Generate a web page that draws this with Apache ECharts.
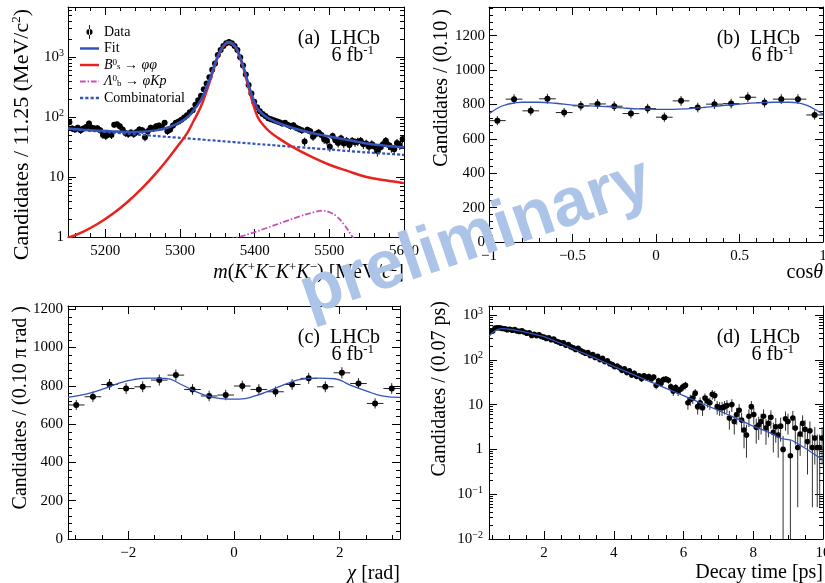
<!DOCTYPE html>
<html><head><meta charset="utf-8">
<script src="https://cdn.jsdelivr.net/npm/echarts@6/dist/echarts.min.js"></script>
<style>html,body{margin:0;padding:0;background:#fff}#c{width:825px;height:583px}</style>
</head><body><div id="c"></div>
<script>
// ---------------- (a) mass ----------------
const massLow = 5150, massBinWidth = 3.75;
const massCounts = [
82,64,62,66,60,64,68,78,66,64, 65,60,50,48,52,50,74,76,70,62,
54,52,55,52,56,62,60,46,58,66, 64,70,72,68,80,58,62,72,80,84,
90,98,107,120,130,160,190,225,290,360, 460,610,780,1080,1300,1530,1700,1770,1700,1530,
1300,990,720,510,340,245,180,145,125,112, 104,95,92,88,85,82,78,80,74,70,
73,66,63,60,39,61,58,47,52,55, 50,42,40,32,48,41,37,44,36,40,
34,40,38,39,40,35,36,32,35,32, 27,31,35,40,34,31,29,37,34,43];
const fitMass = [5150,5170,5190,5210,5230,5250,5270,5285,5300,5310,5318,5328,5338,5345,5350,5355,5360,5365,5370,5375,5380,5385,5390,5397,5404,5412,5420,5430,5450,5475,5500,5525,5550,5575,5600];
const fitTotal = [64,61.4,59.2,57.4,56.4,56.9,60.4,67.3,81.6,98.9,128,192,371,661,990,1340,1640,1770,1690,1439,1038,688,418,217,137,108,93,81,66,54.6,47.3,41.3,36.2,33.3,31.2];
const fitSignal = [0.97,1.22,1.66,2.43,3.87,6.65,12.4,20.9,36.7,55,85,150,330,620,950,1300,1600,1730,1650,1400,1000,650,380,180,100,72,57,46,32,22,16,12.5,10,8.8,7.9];
const fitComb = [63,60.2,57.5,55,52.5,50.2,48,46.4,44.9,43.9,43.1,42.2,41.2,40.6,40.1,39.6,39.2,38.7,38.3,37.8,37.4,37.0,36.5,36.0,35.4,34.8,34.2,33.4,32.0,30.3,28.7,27.1,25.7,24.5,23.3];
const lbMass = [5365,5390,5415,5440,5460,5480,5490,5500,5510,5520,5530,5537];
const lbValues = [0.9,1.1,1.4,1.8,2.2,2.6,2.75,2.6,2.2,1.6,1.05,0.8];
// ---------------- (b) cos theta ----------------
const cosCenters = [-0.95,-0.85,-0.75,-0.65,-0.55,-0.45,-0.35,-0.25,-0.15,-0.05,0.05,0.15,0.25,0.35,0.45,0.55,0.65,0.75,0.85,0.95];
const cosCounts = [706,831,763,833,753,792,803,790,747,776,726,821,782,802,805,842,811,831,831,739];
const cosFitX = [-1,-0.95,-0.9,-0.8,-0.7,-0.6,-0.5,-0.4,-0.3,-0.2,-0.1,0,0.1,0.2,0.3,0.4,0.5,0.6,0.7,0.8,0.85,0.9,0.95,1];
const cosFitY = [745,778,798,813,813,807,796,792,788,780,774,772,772,776,784,794,802,809,813,813,809,796,772,743];
// ---------------- (c) chi ----------------
const chiCenters = [-2.985,-2.670,-2.356,-2.042,-1.728,-1.414,-1.100,-0.785,-0.471,-0.157,0.157,0.471,0.785,1.100,1.414,1.728,2.042,2.356,2.670,2.985];
const chiCounts = [700,743,807,786,795,830,856,781,747,752,799,781,769,807,839,795,868,812,708,786];
const chiFitX = [-3.1416,-2.8,-2.5,-2.2,-1.9,-1.6,-1.3,-1.0,-0.7,-0.4,-0.1,0.1,0.4,0.7,1.0,1.3,1.6,1.9,2.2,2.5,2.8,3.1416];
const chiFitY = [740,757,781,812,833,840,839,807,767,740,731,731,747,778,812,835,840,837,804,774,748,740];
// ---------------- (d) decay time ----------------
const timeLow = 0.42, timeBinWidth = 0.07;
const timeCounts = [
430,440,510,520,515,500,490,470,480,455, 470,440,430,445,410,390,400,350,370,345,
360,330,320,300,310,280,290,260,250,235, 240,210,220,195,185,170,180,160,150,140,
145,125,130,112,120,100,108,90,95,82, 78,70,72,66,58,63,52,57,46,50,
43,44,38,44,40,42,37,41,27,34, 30,36,37,35,25,20,24,20,22,25,
27,11,13,14,18,9,11,8.5,14,12, 11,17,16,9,8.5,8.5,9,9.5,5,10,
4.2,6,7.5,4.5,2.7,2.1,5.5,9,6,3.1, 3.5,4.2,5.5,3,3.8,5.2,2.4,3.2,2.1,3.3,
1.0,4.8,4.2,0.72,5.0,3.0,1.1,2.2,3.8,2.8, 1.5,2.6,1.1,1.8,1.1,1.1,1.8];
const timeFitX = [0.42,0.5,0.6,0.7,0.8,0.9,1.0,1.2,1.4,1.6,1.8,2.0,2.5,3.0,3.5,4.0,4.5,5.0,5.5,6.0,6.5,7.0,7.5,8.0,8.5,8.8,9.1,9.5,10];
const timeFitY = [330,390,450,485,495,490,480,455,425,390,358,328,228,155,106,71,49,33.5,23,15.8,10.8,7.4,5.0,3.3,2.3,1.75,1.6,1.05,0.58];
// tick labels
const massTicks = [5200,5300,5400,5500,5600];
const cosTicks = [-1,-0.5,0,0.5,1];
const chiTicks = [-2,0,2];
const timeTicks = [2,4,6,8,10];
const linYTicks = [0,200,400,600,800,1000,1200];
const massYTicks = [1,10,100,1000];
const timeYTicks = [0.01,0.1,1,10,100,1000];

const FONT = 'Liberation Serif';
const BLUE = '#3353b8', RED = '#e8231f', MAG = '#c94fb8';

function steps(a, b, s) { const r = []; for (let v = a; v <= b + 1e-9; v += s) r.push(+v.toFixed(6)); return r; }
function logMinors(lo, hi) { const r = []; for (let e = -3; e <= 4; e++) for (let k = 2; k <= 9; k++) { const v = k * Math.pow(10, e); if (v > lo && v < hi) r.push(v); } return r; }
function pairs(xs, ys) { return xs.map((x, i) => [x, ys[i]]); }
function hist(centers, counts, hw) { return counts.map((n, i) => [centers[i], n, n - Math.sqrt(n), n + Math.sqrt(n), hw]); }

const supRich = {
  sup: {fontSize: 10, fontFamily: FONT, color: '#000', padding: [0, 0, 8, 0]}
};
function logFmt(v) {
  const e = Math.round(Math.log10(v));
  if (e === 0) return '1';
  if (e === 1) return '10';
  return '10{sup|' + (e < 0 ? '\u2212' : '') + Math.abs(e) + '}';
}
function linFmt(v) { return String(v).replace('-', '\u2212'); }

const xAxes = [], yAxes = [];
function addAxes(list, dim, gi, type, min, max, majors, minors, fmt, labelMargin) {
  const pos = dim === 'x' ? ['bottom', 'top'] : ['left', 'right'];
  const idx = list.length;
  pos.forEach((p, pi) => {
    [true, false].forEach(isMajor => {
      list.push({
        type: type, gridIndex: gi, position: p, min: min, max: max,
        axisLine: {show: isMajor, onZero: false, lineStyle: {color: '#000', width: 1}},
        axisTick: {show: true, inside: true, length: isMajor ? 8 : 4, customValues: isMajor ? majors : minors, lineStyle: {color: '#000', width: 1}},
        minorTick: {show: false},
        splitLine: {show: false},
        axisLabel: {show: isMajor && pi === 0, customValues: majors, formatter: fmt, margin: labelMargin,
          color: '#000', fontFamily: FONT, fontSize: 15, rich: supRich},
        axisPointer: {show: false}
      });
    });
  });
  return idx;
}

// grid 0 (a)
const ax = addAxes(xAxes, 'x', 0, 'value', 5150, 5600, massTicks, steps(5160, 5590, 20).filter(v => v % 100 !== 0), linFmt, 7);
const ay = addAxes(yAxes, 'y', 0, 'log', 1, 6800, massYTicks, logMinors(1, 6800), logFmt, 4);
// grid 1 (b)
const bx = addAxes(xAxes, 'x', 1, 'value', -1, 1, cosTicks, steps(-0.9, 0.9, 0.1).filter(v => Math.abs(v * 2 - Math.round(v * 2)) > 1e-6), linFmt, 7);
const by = addAxes(yAxes, 'y', 1, 'value', 0, 1367, linYTicks, steps(40, 1360, 40).filter(v => v % 200 !== 0), linFmt, 4);
// grid 2 (c)
const cx = addAxes(xAxes, 'x', 2, 'value', -Math.PI, Math.PI, chiTicks, [-3, -2.5, -1.5, -1, -0.5, 0.5, 1, 1.5, 2.5, 3], linFmt, 7);
const cy = addAxes(yAxes, 'y', 2, 'value', 0, 1217, linYTicks, steps(40, 1200, 40).filter(v => v % 200 !== 0), linFmt, 5);
// grid 3 (d)
const dx = addAxes(xAxes, 'x', 3, 'value', timeLow, 10, timeTicks, steps(0.5, 9.5, 0.5).filter(v => v % 2 !== 0), linFmt, 7);
const dy = addAxes(yAxes, 'y', 3, 'log', 0.01, 1585, timeYTicks, logMinors(0.01, 1585), logFmt, 6);

function errSeries(name, xi, yi, data, r, barColor, yFloor) {
  return {
    type: 'custom', name: name, xAxisIndex: xi, yAxisIndex: yi, data: data, clip: true, z: 3,
    itemStyle: {color: '#000'}, encode: {x: 0, y: 1}, silent: true,
    renderItem: function (params, api) {
      const x = api.value(0), y = api.value(1), hw = api.value(4);
      let lo = api.value(2); const hi = api.value(3);
      if (lo < yFloor) lo = yFloor;
      const c = api.coord([x, y]), cl = api.coord([x, lo]), ch = api.coord([x, hi]);
      const a = api.coord([x - hw, y]), b = api.coord([x + hw, y]);
      return {type: 'group', children: [
        {type: 'line', shape: {x1: c[0], y1: cl[1], x2: c[0], y2: ch[1]}, style: {stroke: barColor, lineWidth: 1}},
        {type: 'line', shape: {x1: a[0], y1: c[1], x2: b[0], y2: c[1]}, style: {stroke: barColor, lineWidth: 1}},
        {type: 'circle', shape: {cx: c[0], cy: c[1], r: r}, style: {fill: '#000'}}
      ]};
    }
  };
}
function lineSeries(name, xi, yi, data, color, width, type, smooth) {
  return {type: 'line', name: name, xAxisIndex: xi, yAxisIndex: yi, data: data, showSymbol: false, symbol: 'none',
    smooth: smooth, clip: true, z: 4, silent: true,
    lineStyle: {color: color, width: width, type: type}, itemStyle: {color: color}};
}

const massCenters = massCounts.map((n, i) => massLow + (i + 0.5) * massBinWidth);
const timeCenters = timeCounts.map((n, i) => timeLow + (i + 0.5) * timeBinWidth);

const series = [
  errSeries('Data', ax, ay, hist(massCenters, massCounts, massBinWidth / 2), 3, '#000', 1e-3),
  lineSeries('Comb', ax, ay, pairs(fitMass, fitComb), BLUE, 2.2, [3, 2], 0.3),
  lineSeries('Lb', ax, ay, pairs(lbMass, lbValues), MAG, 1.8, [6, 2, 1.5, 2], 0.4),
  lineSeries('Bs', ax, ay, pairs(fitMass, fitSignal), RED, 2.5, 'solid', 0.4),
  lineSeries('Fit', ax, ay, pairs(fitMass, fitTotal), BLUE, 2.5, 'solid', 0.4),
  errSeries('cosData', bx, by, hist(cosCenters, cosCounts, 0.05), 3, '#222', 0),
  lineSeries('cosFit', bx, by, pairs(cosFitX, cosFitY), BLUE, 1.3, 'solid', 0.5),
  errSeries('chiData', cx, cy, hist(chiCenters, chiCounts, Math.PI * 0.05), 3, '#222', 0),
  lineSeries('chiFit', cx, cy, pairs(chiFitX, chiFitY), BLUE, 1.3, 'solid', 0.5),
  errSeries('timeData', dx, dy, hist(timeCenters, timeCounts, timeBinWidth / 2), 2.8, '#333', 0.01),
  lineSeries('timeFit', dx, dy, pairs(timeFitX, timeFitY), BLUE, 1.3, 'solid', 0.2)
];

const legendNames = {
  Data: 'Data', Fit: 'Fit', Bs: '{i|B}{sup|0}{sub|s} \u2192 {i|\u03c6\u03c6}',
  Lb: '{i|\u039b}{sup|0}{sub|b} \u2192 {i|\u03c6Kp}', Comb: 'Combinatorial'
};
const dataIcon = 'path://M4,0H5V16H4Z M1,8A3.5,3.5,0,1,0,8,8A3.5,3.5,0,1,0,1,8Z';
const solidIcon = 'path://M0,0H20V2.6H0Z';
const dashDotIcon = 'path://M0,0H6V2H0Z M8,0H9.5V2H8Z M11.5,0H17.5V2H11.5Z M19.5,0H20V2H19.5Z';
const dotIcon = 'path://M0,0H3V2.4H0Z M5,0H8V2.4H5Z M10,0H13V2.4H10Z M15,0H18V2.4H15Z';

const gRich = {
  sup: {fontSize: 13, fontFamily: FONT, padding: [0, 0, 10, 0]},
  sub: {fontSize: 13, fontFamily: FONT, padding: [8, 0, 0, 0]},
  i: {fontStyle: 'italic', fontSize: 20, fontFamily: FONT}
};
function txt(text, x, y, size, align, rot, extra) {
  return Object.assign({type: 'text', x: x, y: y, rotation: rot || 0, z: 50, silent: true,
    style: {text: text, fill: '#000', fontSize: size, fontFamily: FONT, align: align, verticalAlign: 'middle', rich: gRich}}, extra || {});
}
const R = Math.PI / 2;
const graphics = [
  txt('Candidates / 11.25 (MeV/c{sup|2})', 22, 9, 22, 'right', R),
  txt('Candidates / (0.10 )', 442, 9, 20, 'right', R),
  txt('Candidates / (0.10 \u03c0 rad )', 21, 306, 20, 'right', R),
  txt('Candidates / (0.07 ps)', 440, 301, 20, 'right', R),
  txt('{i|m}({i|K}{sup|+}{i|K}{sup|\u2212}{i|K}{sup|+}{i|K}{sup|\u2212}) [MeV/{i|c}{sup|2}]', 404, 273, 20, 'right', 0),
  txt('cos{i|\u03b8}', 823, 273, 20, 'right', 0),
  txt('{i|\u03c7} [rad]', 400, 574, 20, 'right', 0),
  txt('Decay time [ps]', 823, 573, 20, 'right', 0),
  txt('(a)  LHCb', 380, 39, 20, 'right', 0),
  txt('6 fb{sup|-1}', 374, 56, 20, 'right', 0),
  txt('(b)  LHCb', 800, 39, 20, 'right', 0),
  txt('6 fb{sup|-1}', 794, 56, 20, 'right', 0),
  txt('(c)  LHCb', 380, 338, 20, 'right', 0),
  txt('6 fb{sup|-1}', 374, 355, 20, 'right', 0),
  txt('(d)  LHCb', 800, 338, 20, 'right', 0),
  txt('6 fb{sup|-1}', 794, 355, 20, 'right', 0),
  {type: 'text', x: 476, y: 238, rotation: 0.33, z: 100, silent: true,
    style: {text: 'preliminary', fill: 'rgb(172,196,232)', fontSize: 68, fontWeight: 'bold', fontFamily: 'Liberation Sans', align: 'center', verticalAlign: 'middle'}}
];

const lgTok = (extra) => Object.assign({fontFamily: FONT, color: '#000', lineHeight: 14}, extra);
const option = {
  animation: false,
  backgroundColor: '#fff',
  grid: [
    {left: 68, top: 7, width: 336, height: 230, containLabel: false, outerBoundsMode: 'none'},
    {left: 489, top: 7, width: 334, height: 235, containLabel: false, outerBoundsMode: 'none'},
    {left: 68, top: 306, width: 332, height: 233, containLabel: false, outerBoundsMode: 'none'},
    {left: 489, top: 306, width: 334, height: 233, containLabel: false, outerBoundsMode: 'none'}
  ],
  xAxis: xAxes,
  yAxis: yAxes,
  legend: {
    data: [{name: 'Data', icon: dataIcon}, {name: 'Fit', icon: solidIcon}, {name: 'Bs', icon: solidIcon},
           {name: 'Lb', icon: dashDotIcon}, {name: 'Comb', icon: dotIcon}],
    orient: 'vertical', left: 75, top: 20, itemWidth: 19, itemHeight: 14, itemGap: 2.5,
    selectedMode: false,
    formatter: n => legendNames[n],
    textStyle: {fontFamily: FONT, fontSize: 14, color: '#000', lineHeight: 14,
      rich: {sup: lgTok({fontSize: 9, padding: [0, 0, 5, 0]}),
             sub: lgTok({fontSize: 9, padding: [4, 0, 0, 0]}),
             i: lgTok({fontStyle: 'italic', fontSize: 14})}}
  },
  graphic: graphics,
  series: series
};
const chart = echarts.init(document.getElementById('c'));
chart.setOption(option);
</script></body></html>
